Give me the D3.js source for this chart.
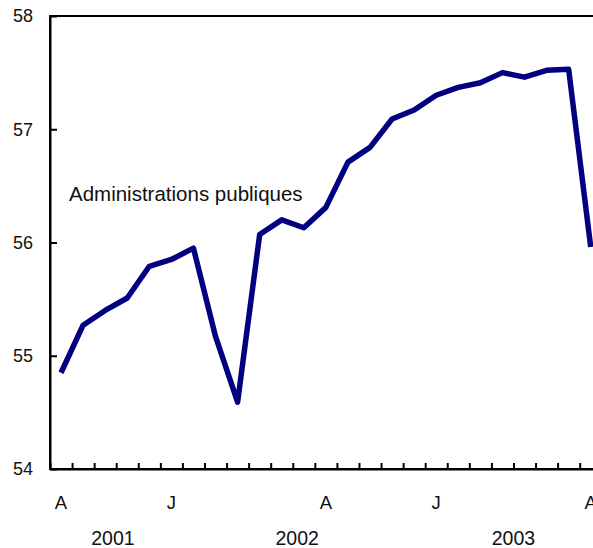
<!DOCTYPE html>
<html>
<head>
<meta charset="utf-8">
<script src="https://cdn.jsdelivr.net/npm/d3@7"></script>
<style>
  html, body { margin: 0; padding: 0; background: #fff; }
  svg { display: block; }
  text { font-family: "Liberation Sans", Arial, Helvetica, sans-serif; fill: #111; }
</style>
</head>
<body>
<script>
// Months from August 2001 to August 2003
const months = ["2001-08","2001-09","2001-10","2001-11","2001-12",
  "2002-01","2002-02","2002-03","2002-04","2002-05","2002-06","2002-07","2002-08","2002-09","2002-10","2002-11","2002-12",
  "2003-01","2003-02","2003-03","2003-04","2003-05","2003-06","2003-07","2003-08"];
const values = [54.85,55.27,55.40,55.51,55.79,55.85,55.95,55.17,54.59,56.07,56.20,56.13,56.31,56.71,56.84,57.09,57.17,57.30,57.37,57.41,57.50,57.46,57.52,57.53,55.96];
const yTicks = [54,55,56,57,58];
const monthLabels = [{i:0,t:"A"},{i:5,t:"J"},{i:12,t:"A"},{i:17,t:"J"},{i:24,t:"A"}];
const yearLabels = [{i:2.35,t:"2001"},{i:10.7,t:"2002"},{i:20.5,t:"2003"}];
const seriesLabel = "Administrations publiques";

const W = 593, H = 548;
const margin = {left:50, top:16, bottom:79};
const step = 22.07;
const nSlots = 27;

const svg = d3.select("body").append("svg").attr("width", W).attr("height", H);

const x = d3.scaleLinear().domain([0, nSlots]).range([margin.left, margin.left + step*nSlots]);
const y = d3.scaleLinear().domain([54, 58]).range([H - margin.bottom, margin.top]);

// frame (top line, right side off-screen)
svg.append("rect")
  .attr("x", x(0)).attr("y", y(58))
  .attr("width", x(nSlots) - x(0)).attr("height", y(54) - y(58))
  .attr("fill", "none").attr("stroke", "#000").attr("stroke-width", 2);

// y axis
const yAxis = svg.append("g").attr("transform", `translate(${x(0)},0)`)
  .call(d3.axisLeft(y).tickValues(yTicks).tickFormat(d3.format("d")).tickSizeInner(-7).tickSizeOuter(0).tickPadding(17));
yAxis.select(".domain").attr("stroke", "#000").attr("stroke-width", 2);
yAxis.selectAll(".tick line").attr("stroke", "#000").attr("stroke-width", 2);
yAxis.selectAll(".tick text").style("font-size", "18px").attr("fill", "#111");

// x axis ticks (between months)
const xAxis = svg.append("g").attr("transform", `translate(0,${y(54)})`)
  .call(d3.axisBottom(x).tickValues(d3.range(0, nSlots + 1)).tickFormat("").tickSizeInner(-6).tickSizeOuter(0));
xAxis.select(".domain").attr("stroke", "#000").attr("stroke-width", 2);
xAxis.selectAll(".tick line").attr("stroke", "#000").attr("stroke-width", 2);

// month labels
svg.selectAll("text.month").data(monthLabels).enter().append("text")
  .attr("class", "month")
  .attr("x", d => x(d.i + 0.5)).attr("y", 509)
  .attr("text-anchor", "middle").style("font-size", "18.5px")
  .text(d => d.t);

// year labels
svg.selectAll("text.year").data(yearLabels).enter().append("text")
  .attr("class", "year")
  .attr("x", d => x(d.i + 0.5)).attr("y", 545)
  .attr("text-anchor", "middle").style("font-size", "19.5px")
  .text(d => d.t);

// line
const line = d3.line().x((d, i) => x(i + 0.5)).y(d => y(d));
svg.append("path").datum(values)
  .attr("d", line)
  .attr("fill", "none").attr("stroke", "#000080").attr("stroke-width", 5.5)
  .attr("stroke-linejoin", "round").attr("stroke-linecap", "butt");

// series label
svg.append("text").attr("x", 69).attr("y", 201)
  .style("font-size", "20.5px").text(seriesLabel);
</script>
</body>
</html>
